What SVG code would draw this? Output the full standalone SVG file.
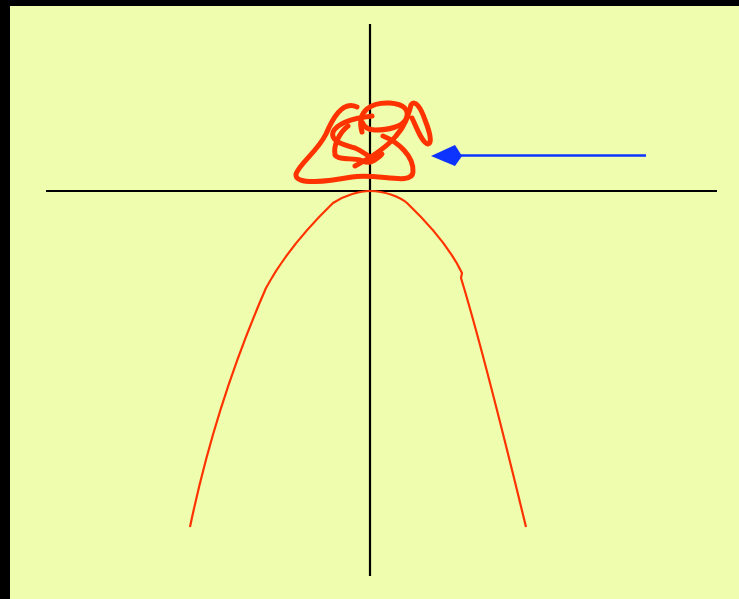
<svg xmlns="http://www.w3.org/2000/svg" width="739" height="599" viewBox="0 0 739 599">
<style>
.axis{stroke:#000;stroke-width:2.2;fill:none}
.curve{stroke:#FF3300;stroke-width:2.2;fill:none}
.scrib{stroke:#FF3300;stroke-width:5;fill:none;stroke-linecap:round;stroke-linejoin:round}
.arrow{stroke:#0D33FF;stroke-width:2.5;fill:none}
</style>
<rect x="0" y="0" width="739" height="599" fill="#000"/>
<rect x="10" y="6" width="729" height="593" fill="#EEFDAE"/>
<g id="axes">
<line class="axis" x1="46" y1="191" x2="717" y2="191"/>
<line class="axis" x1="370" y1="24" x2="370" y2="576"/>
</g>
<g id="parabola">
<path class="curve" d="M190,527 C205,455 228,375 266,288 C280,262 300,235 333,203 C345,195 360,191 370,191 C385,191 400,197 407,203 C430,225 450,248 462,273 L461,278 C480,340 500,420 526,527"/>
</g>
<g id="scribble">
<path class="scrib" d="M357,107 C342,100 332,120 326,134 C317,152 300,163 296,174 C294,186 330,181 352,177 C378,173 412,186 413,172 C414,156 398,142 383,136"/>
<path class="scrib" d="M362,132 C356,110 372,102 390,103 C404,104 410,110 406,119 C402,127 388,130 375,130 C368,130 364,127 362,122"/>
<path class="scrib" d="M355,166 C370,158 386,148 396,136 C405,126 408,116 411,105 C415,99 421,108 425,120 C429,130 433,143 428,144 C422,143 417,128 412,118"/>
<path class="scrib" d="M372,116 C355,118 338,122 333,132 C330,142 345,145 355,148 C365,152 372,162 380,156"/>
<path class="scrib" d="M348,126 C340,132 333,145 335,155 C338,160 352,158 360,160 C366,162 370,166 382,154"/>
</g>
<g id="arrow">
<line class="arrow" x1="646" y1="155.5" x2="460" y2="155.5"/>
<polygon points="431,156 455,145 462,156 455,166" fill="#0D33FF"/>
</g>
</svg>
